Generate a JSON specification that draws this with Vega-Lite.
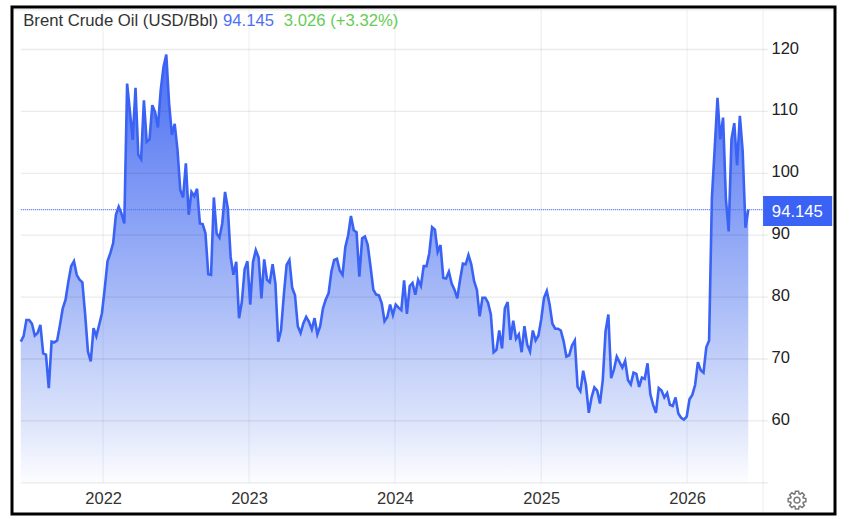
{"$schema":"https://vega.github.io/schema/vega-lite/v6.json","width":823,"height":507,"autosize":"none","padding":{"left":12,"top":7,"right":7,"bottom":6},"background":"#ffffff","view":{"stroke":"#000000","strokeWidth":3,"fill":"#ffffff"},
"datasets":{"prices":[
{"d":"2021-06-09","v":72.8},{"d":"2021-06-16","v":73.7},{"d":"2021-06-23","v":76.3},{"d":"2021-06-30","v":76.3},{"d":"2021-07-07","v":75.7},{"d":"2021-07-14","v":73.8},{"d":"2021-07-21","v":74.2},{"d":"2021-07-28","v":75.5},{"d":"2021-08-04","v":70.9},{"d":"2021-08-11","v":70.7},
{"d":"2021-08-18","v":65.3},{"d":"2021-08-25","v":72.8},{"d":"2021-09-01","v":72.7},{"d":"2021-09-08","v":73},{"d":"2021-09-15","v":75.5},{"d":"2021-09-22","v":78.2},{"d":"2021-09-29","v":79.6},{"d":"2021-10-06","v":82.5},{"d":"2021-10-13","v":85},{"d":"2021-10-20","v":85.8},
{"d":"2021-10-27","v":83.6},{"d":"2021-11-03","v":82.8},{"d":"2021-11-10","v":82.4},{"d":"2021-11-17","v":77.2},{"d":"2021-11-24","v":71.2},{"d":"2021-12-01","v":69.6},{"d":"2021-12-08","v":75},{"d":"2021-12-15","v":73.7},{"d":"2021-12-22","v":75.5},{"d":"2021-12-29","v":77.4},
{"d":"2022-01-05","v":81.4},{"d":"2022-01-12","v":85.8},{"d":"2022-01-19","v":87.1},{"d":"2022-01-26","v":88.7},{"d":"2022-02-02","v":93.3},{"d":"2022-02-09","v":94.6},{"d":"2022-02-16","v":93.5},{"d":"2022-02-23","v":91.9},{"d":"2022-03-02","v":114.5},{"d":"2022-03-09","v":110},
{"d":"2022-03-16","v":105.4},{"d":"2022-03-23","v":113.8},{"d":"2022-03-30","v":103},{"d":"2022-04-06","v":102.3},{"d":"2022-04-13","v":111.8},{"d":"2022-04-20","v":105.1},{"d":"2022-04-27","v":105.5},{"d":"2022-05-04","v":111},{"d":"2022-05-11","v":109.9},{"d":"2022-05-18","v":107.4},
{"d":"2022-05-25","v":113.4},{"d":"2022-06-01","v":117.2},{"d":"2022-06-08","v":119.2},{"d":"2022-06-15","v":111.3},{"d":"2022-06-22","v":106.2},{"d":"2022-06-29","v":108},{"d":"2022-07-06","v":103.8},{"d":"2022-07-13","v":97.3},{"d":"2022-07-20","v":96.1},{"d":"2022-07-27","v":101.6},
{"d":"2022-08-03","v":93.3},{"d":"2022-08-10","v":97},{"d":"2022-08-17","v":96.3},{"d":"2022-08-24","v":97.5},{"d":"2022-08-31","v":91.9},{"d":"2022-09-07","v":91.8},{"d":"2022-09-14","v":90.3},{"d":"2022-09-21","v":83.7},{"d":"2022-09-28","v":83.6},{"d":"2022-10-05","v":96.1},
{"d":"2022-10-12","v":90.3},{"d":"2022-10-19","v":89.6},{"d":"2022-10-26","v":91.9},{"d":"2022-11-02","v":97},{"d":"2022-11-09","v":94.3},{"d":"2022-11-16","v":86.5},{"d":"2022-11-23","v":83.6},{"d":"2022-11-30","v":85.7},{"d":"2022-12-07","v":76.6},{"d":"2022-12-14","v":79.2},
{"d":"2022-12-21","v":84.5},{"d":"2022-12-28","v":85.8},{"d":"2023-01-04","v":78.8},{"d":"2023-01-11","v":85.7},{"d":"2023-01-18","v":87.6},{"d":"2023-01-25","v":86.4},{"d":"2023-02-01","v":79.8},{"d":"2023-02-08","v":86.1},{"d":"2023-02-15","v":82.8},{"d":"2023-02-22","v":82.4},
{"d":"2023-03-01","v":85.3},{"d":"2023-03-08","v":82.2},{"d":"2023-03-15","v":72.8},{"d":"2023-03-22","v":74.6},{"d":"2023-03-29","v":80.3},{"d":"2023-04-05","v":85.2},{"d":"2023-04-12","v":86},{"d":"2023-04-19","v":81.5},{"d":"2023-04-26","v":80.3},{"d":"2023-05-03","v":75.3},
{"d":"2023-05-10","v":74.2},{"d":"2023-05-17","v":75.8},{"d":"2023-05-24","v":76.8},{"d":"2023-05-31","v":76},{"d":"2023-06-07","v":74.8},{"d":"2023-06-14","v":76.6},{"d":"2023-06-21","v":74},{"d":"2023-06-28","v":75.3},{"d":"2023-07-05","v":78.2},{"d":"2023-07-12","v":79.6},
{"d":"2023-07-19","v":80.6},{"d":"2023-07-26","v":84.1},{"d":"2023-08-02","v":86},{"d":"2023-08-09","v":86.2},{"d":"2023-08-16","v":84.3},{"d":"2023-08-23","v":83.6},{"d":"2023-08-30","v":88.1},{"d":"2023-09-06","v":90},{"d":"2023-09-13","v":93.1},{"d":"2023-09-20","v":90.8},
{"d":"2023-09-27","v":90.5},{"d":"2023-10-04","v":83.3},{"d":"2023-10-11","v":89.5},{"d":"2023-10-18","v":89.8},{"d":"2023-10-25","v":88.4},{"d":"2023-11-01","v":84.9},{"d":"2023-11-08","v":81.2},{"d":"2023-11-15","v":80.4},{"d":"2023-11-22","v":80.3},{"d":"2023-11-29","v":79},
{"d":"2023-12-06","v":76.1},{"d":"2023-12-13","v":76.8},{"d":"2023-12-20","v":78.8},{"d":"2023-12-27","v":77.1},{"d":"2024-01-03","v":78.8},{"d":"2024-01-10","v":78.3},{"d":"2024-01-17","v":77.9},{"d":"2024-01-24","v":82.7},{"d":"2024-01-31","v":77.3},{"d":"2024-02-07","v":81.8},
{"d":"2024-02-14","v":82.3},{"d":"2024-02-21","v":80.4},{"d":"2024-02-28","v":82.8},{"d":"2024-03-06","v":81.8},{"d":"2024-03-13","v":85},{"d":"2024-03-20","v":85},{"d":"2024-03-27","v":87.1},{"d":"2024-04-03","v":91.3},{"d":"2024-04-10","v":90.9},{"d":"2024-04-17","v":87.3},
{"d":"2024-04-24","v":88.4},{"d":"2024-05-01","v":83.1},{"d":"2024-05-08","v":83},{"d":"2024-05-15","v":84.1},{"d":"2024-05-22","v":82.2},{"d":"2024-05-29","v":81.2},{"d":"2024-06-05","v":79.8},{"d":"2024-06-12","v":82.8},{"d":"2024-06-19","v":85.4},{"d":"2024-06-26","v":85.3},
{"d":"2024-07-03","v":86.8},{"d":"2024-07-10","v":85.3},{"d":"2024-07-17","v":82.6},{"d":"2024-07-24","v":81.2},{"d":"2024-07-31","v":76.9},{"d":"2024-08-07","v":79.9},{"d":"2024-08-14","v":79.9},{"d":"2024-08-21","v":79.1},{"d":"2024-08-28","v":77.2},{"d":"2024-09-04","v":71.1},
{"d":"2024-09-11","v":71.5},{"d":"2024-09-18","v":74.6},{"d":"2024-09-25","v":71.7},{"d":"2024-10-02","v":78.2},{"d":"2024-10-09","v":79.2},{"d":"2024-10-16","v":73.1},{"d":"2024-10-23","v":76.2},{"d":"2024-10-30","v":73.3},{"d":"2024-11-06","v":74},{"d":"2024-11-13","v":71.1},
{"d":"2024-11-20","v":75.3},{"d":"2024-11-27","v":72.3},{"d":"2024-12-04","v":71.2},{"d":"2024-12-11","v":74.6},{"d":"2024-12-18","v":73},{"d":"2024-12-25","v":73.8},{"d":"2025-01-01","v":76.4},{"d":"2025-01-08","v":79.9},{"d":"2025-01-15","v":81},{"d":"2025-01-22","v":78.8},
{"d":"2025-01-29","v":75.7},{"d":"2025-02-05","v":74.9},{"d":"2025-02-12","v":74.9},{"d":"2025-02-19","v":74.6},{"d":"2025-02-26","v":72.9},{"d":"2025-03-05","v":70.4},{"d":"2025-03-12","v":70.6},{"d":"2025-03-19","v":72.2},{"d":"2025-03-26","v":73},{"d":"2025-04-02","v":65.5},
{"d":"2025-04-09","v":64.8},{"d":"2025-04-16","v":68.1},{"d":"2025-04-23","v":65.8},{"d":"2025-04-30","v":61.3},{"d":"2025-05-07","v":63.8},{"d":"2025-05-14","v":65.4},{"d":"2025-05-21","v":64.9},{"d":"2025-05-28","v":62.8},{"d":"2025-06-04","v":66.6},{"d":"2025-06-11","v":74.5},
{"d":"2025-06-18","v":77.2},{"d":"2025-06-25","v":66.9},{"d":"2025-07-02","v":68.3},{"d":"2025-07-09","v":70.4},{"d":"2025-07-16","v":69.5},{"d":"2025-07-23","v":68.6},{"d":"2025-07-30","v":69.7},{"d":"2025-08-06","v":66.6},{"d":"2025-08-13","v":65.9},{"d":"2025-08-20","v":67.8},
{"d":"2025-08-27","v":67.6},{"d":"2025-09-03","v":65.5},{"d":"2025-09-10","v":67},{"d":"2025-09-17","v":66.8},{"d":"2025-09-24","v":69.3},{"d":"2025-10-01","v":64.3},{"d":"2025-10-08","v":62.6},{"d":"2025-10-15","v":61.3},{"d":"2025-10-22","v":65.3},{"d":"2025-10-29","v":64.9},
{"d":"2025-11-05","v":63.8},{"d":"2025-11-12","v":64.5},{"d":"2025-11-19","v":62.6},{"d":"2025-11-26","v":62.4},{"d":"2025-12-03","v":63.8},{"d":"2025-12-10","v":61.2},{"d":"2025-12-17","v":60.5},{"d":"2025-12-24","v":60.2},{"d":"2025-12-31","v":60.7},{"d":"2026-01-07","v":63.5},
{"d":"2026-01-14","v":64.2},{"d":"2026-01-21","v":65.8},{"d":"2026-01-28","v":69.5},{"d":"2026-02-04","v":68.2},{"d":"2026-02-11","v":67.8},{"d":"2026-02-18","v":71.9},{"d":"2026-02-25","v":73},{"d":"2026-03-04","v":96},{"d":"2026-03-11","v":104},{"d":"2026-03-18","v":112.2},
{"d":"2026-03-25","v":105.5},{"d":"2026-04-01","v":109},{"d":"2026-04-08","v":95.9},{"d":"2026-04-15","v":90.6},{"d":"2026-04-22","v":105.5},{"d":"2026-04-29","v":108.1},{"d":"2026-05-06","v":101.3},{"d":"2026-05-13","v":109.3},{"d":"2026-05-20","v":103.6},{"d":"2026-05-27","v":91.2},{"d":"2026-06-03","v":94.145}
]},
"layer":[
{"data":{"name":"prices"},"mark":{"type":"area","line":false,"fill":{"x1":0,"y1":0,"x2":0,"y2":1,"gradient":"linear","stops":[{"offset":0,"color":"#4a6ef2"},{"offset":0.57,"color":"#a8bbf7"},{"offset":0.85,"color":"#dbe3fb"},{"offset":1,"color":"#fdfdff"}]}},
"encoding":{"x":{"field":"d","type":"temporal","scale":{"type":"utc","domain":["2021-05-18","2027-01-06"]},"axis":{"orient":"bottom","offset":-31,"title":null,"grid":false,"domain":false,"ticks":false,"values":["2022-01-01","2023-01-01","2024-01-01","2025-01-01","2026-01-01"],"format":"%Y","formatType":"utc","labelFont":"Liberation Sans","labelFontSize":16.5,"labelColor":"#333333","labelPadding":7}},
"y":{"field":"v","type":"quantitative","scale":{"domain":[44.96,126.87],"nice":false,"zero":false},"axis":{"orient":"right","offset":-72,"title":null,"grid":false,"domain":false,"ticks":false,"values":[60,70,80,90,100,110,120],"labelFont":"Liberation Sans","labelFontSize":16.5,"labelColor":"#222222","labelPadding":8,"labelOffset":-1.5}},
"y2":{"datum":50}}},
{"data":{"values":[{"v":50,"a":"2021-06-09","b":"2026-07-22"},{"v":60,"a":"2021-06-09","b":"2026-07-22"},{"v":70,"a":"2021-06-09","b":"2026-07-22"},{"v":80,"a":"2021-06-09","b":"2026-07-22"},{"v":90,"a":"2021-06-09","b":"2026-07-22"},{"v":100,"a":"2021-06-09","b":"2026-07-22"},{"v":110,"a":"2021-06-09","b":"2026-07-22"},{"v":120,"a":"2021-06-09","b":"2026-07-22"},{"v":126.4,"a":"2021-05-18","b":"2027-01-06"}],"format":{"parse":{"a":"date","b":"date"}}},"mark":{"type":"rule","color":"#000000","opacity":0.08,"strokeWidth":1.3},"encoding":{"x":{"field":"a","type":"temporal"},"x2":{"field":"b"},"y":{"field":"v","type":"quantitative"}}},
{"data":{"values":[{"d":"2022-01-01","lo":50,"hi":126.4},{"d":"2023-01-01","lo":50,"hi":126.4},{"d":"2024-01-01","lo":50,"hi":126.4},{"d":"2025-01-01","lo":50,"hi":126.4},{"d":"2026-01-01","lo":50,"hi":126.4},{"d":"2026-07-10","lo":45,"hi":126.4}]},"mark":{"type":"rule","color":"#6080a0","opacity":0.1,"strokeWidth":1.3},"encoding":{"x":{"field":"d","type":"temporal"},"y":{"field":"lo","type":"quantitative"},"y2":{"field":"hi"}}},
{"data":{"name":"prices"},"mark":{"type":"line","color":"#3a63f5","strokeWidth":2.6,"strokeJoin":"miter","interpolate":"linear"},"encoding":{"x":{"field":"d","type":"temporal"},"y":{"field":"v","type":"quantitative"}}},
{"data":{"values":[{"v":94.145,"a":"2021-06-09","b":"2026-07-10"}],"format":{"parse":{"a":"date","b":"date"}}},"mark":{"type":"rule","color":"#4d72f7","strokeWidth":1.2,"strokeDash":[1,1],"opacity":1},"encoding":{"x":{"field":"a","type":"temporal"},"x2":{"field":"b"},"y":{"field":"v","type":"quantitative"}}},
{"data":{"values":[{"a":"2026-07-10","b":"2026-12-30","lo":91.49,"hi":96.33}],"format":{"parse":{"a":"date","b":"date"}}},"mark":{"type":"rect","color":"#3a63f5"},"encoding":{"x":{"field":"a","type":"temporal"},"x2":{"field":"b"},"y":{"field":"lo","type":"quantitative"},"y2":{"field":"hi"}}},
{"data":{"values":[{"d":"2026-08-01","v":93.8,"t":"94.145"}]},"mark":{"type":"text","align":"left","baseline":"middle","font":"Liberation Sans","fontSize":16.7,"color":"#ffffff"},"encoding":{"x":{"field":"d","type":"temporal"},"y":{"field":"v","type":"quantitative"},"text":{"field":"t"}}},
{"data":{"values":[{"d":"2021-06-15","v":123.8,"t":"Brent Crude Oil (USD/Bbl)"}]},"mark":{"type":"text","align":"left","baseline":"alphabetic","font":"Liberation Sans","fontSize":16.7,"color":"#333333"},"encoding":{"x":{"field":"d","type":"temporal"},"y":{"field":"v","type":"quantitative"},"text":{"field":"t"}}},
{"data":{"values":[{"d":"2022-10-28","v":123.8,"t":"94.145"}]},"mark":{"type":"text","align":"left","baseline":"alphabetic","font":"Liberation Sans","fontSize":16.7,"color":"#4d6ff5"},"encoding":{"x":{"field":"d","type":"temporal"},"y":{"field":"v","type":"quantitative"},"text":{"field":"t"}}},
{"data":{"values":[{"d":"2023-03-29","v":123.8,"t":"3.026 (+3.32%)"}]},"mark":{"type":"text","align":"left","baseline":"alphabetic","font":"Liberation Sans","fontSize":16.7,"color":"#66cc55"},"encoding":{"x":{"field":"d","type":"temporal"},"y":{"field":"v","type":"quantitative"},"text":{"field":"t"}}},
{"data":{"values":[{"d":"2026-10-03","v":47.2}]},"mark":{"type":"point","filled":false,"stroke":"#777777","strokeWidth":1.5,"size":324,"opacity":1,"shape":"M.704 -.229L.985 -.174L.985 .174L.704 .229L.659 .336L.819 .574L.574 .819L.336 .659L.229 .704L.174 .985L-.174 .985L-.229 .704L-.336 .659L-.574 .819L-.819 .574L-.659 .336L-.704 .229L-.985 .174L-.985 -.174L-.704 -.229L-.659 -.336L-.819 -.574L-.574 -.819L-.336 -.659L-.229 -.704L-.174 -.985L.174 -.985L.229 -.704L.336 -.659L.574 -.819L.819 -.574L.659 -.336ZM.33 0A.33 .33 0 1 0 -.33 0A.33 .33 0 1 0 .33 0Z"},"encoding":{"x":{"field":"d","type":"temporal"},"y":{"field":"v","type":"quantitative"}}}
]}
